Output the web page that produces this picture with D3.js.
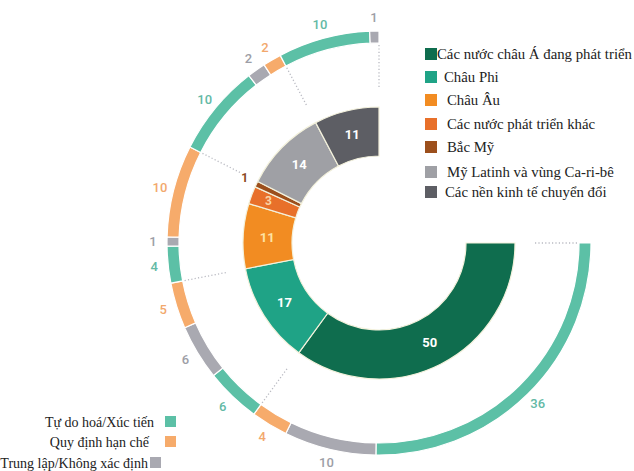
<!DOCTYPE html>
<html>
<head>
<meta charset="utf-8">
<script src="https://cdn.jsdelivr.net/npm/d3@7"></script>
<style>
  html, body { margin: 0; padding: 0; background: #fff; }
  svg { display: block; }
</style>
</head>
<body>
<svg id="chart" width="634" height="471"></svg>
<script>
// Regional groups (inner ring)
const groupNames = [
  "Các nước châu Á đang phát triển",
  "Châu Phi",
  "Châu Âu",
  "Các nước phát triển khác",
  "Bắc Mỹ",
  "Mỹ Latinh và vùng Ca-ri-bê",
  "Các nền kinh tế chuyển đổi"
];
const groupValues = [50, 17, 11, 3, 1, 14, 11];
const groupColors = ["#0f6d4e", "#1fa386", "#f28c22", "#e8702a", "#9c4f1c", "#9fa0a5", "#5d5e64"];
const groupLabelColors = ["#ffffff", "#ffffff", "#fde3a4", "#f9d5a6", "#8a4a1e", "#ffffff", "#ffffff"];

// Policy measure types (outer ring)
const typeNames = ["Tự do hoá/Xúc tiến", "Quy định hạn chế", "Trung lập/Không xác định"];
const typeColors = ["#5cc0a6", "#f6ab6b", "#a9a9b1"];
const typeLabelColors = ["#63b9a5", "#f2a86d", "#9d9ea6"];

// Outer ring runs, in order (value and type index)
const outerValues = [36, 10, 4, 6, 6, 5, 4, 1, 10, 10, 2, 2, 10, 1];
const outerTypes  = [0, 2, 1, 0, 2, 1, 0, 2, 1, 0, 2, 1, 0, 2];

const svg = d3.select("#chart");
const cx = 379, cy = 243;
const g = svg.append("g").attr("transform", `translate(${cx},${cy})`);

const start = Math.PI / 2, end = 2 * Math.PI;
const pie = d3.pie().sort(null).value(d => d.v).startAngle(start).endAngle(end);

const inner = pie(groupValues.map((v, i) => ({ v, i })));
const outer = pie(outerValues.map((v, i) => ({ v, t: outerTypes[i] })));

const rIn0 = 87, rIn1 = 136;
const rOut0 = 200, rOut1 = 212;

// angle scale from cumulative value to angle
const total = d3.sum(groupValues);
const angle = d3.scaleLinear().domain([0, total]).range([start, end]);

// dotted connectors at group boundaries that coincide with outer-ring breaks
const groupCum = Array.from(d3.cumsum(groupValues));
const outerCum = Array.from(d3.cumsum(outerValues));
const boundaries = [0].concat(groupCum.filter(c => outerCum.includes(c)));
g.selectAll("line.conn").data(boundaries).join("line")
  .attr("class", "conn")
  .attr("x1", d => 156 * Math.sin(angle(d)))
  .attr("y1", d => -156 * Math.cos(angle(d)))
  .attr("x2", d => 199 * Math.sin(angle(d)))
  .attr("y2", d => -199 * Math.cos(angle(d)))
  .attr("stroke", "#b9bac2")
  .attr("stroke-width", 1.3)
  .attr("stroke-dasharray", "1.2,2.2");

// inner ring
const arcIn = d3.arc().innerRadius(rIn0).outerRadius(rIn1);
g.selectAll("path.inner").data(inner).join("path")
  .attr("class", "inner")
  .attr("d", arcIn)
  .attr("fill", d => groupColors[d.data.i])
  .attr("stroke", "#f3f1dc")
  .attr("stroke-width", 1.2);

// inner labels
g.selectAll("text.inner").data(inner).join("text")
  .attr("class", "inner")
  .attr("transform", d => {
    const a = (d.startAngle + d.endAngle) / 2;
    const r = d.data.v <= 1 ? 149 : (d.data.v <= 3 ? 118 : 112);
    return `translate(${r * Math.sin(a)},${-r * Math.cos(a)})`;
  })
  .attr("text-anchor", "middle")
  .attr("dominant-baseline", "central")
  .attr("font-family", "Roboto, 'Open Sans', sans-serif")
  .attr("font-weight", 700)
  .attr("font-size", d => d.data.v <= 3 ? 12 : 13)
  .attr("fill", d => groupLabelColors[d.data.i])
  .text(d => d.data.v);

// outer ring
const arcOut = d3.arc().innerRadius(rOut0).outerRadius(rOut1);
g.selectAll("path.outer").data(outer).join("path")
  .attr("class", "outer")
  .attr("d", arcOut)
  .attr("fill", d => typeColors[d.data.t])
  .attr("stroke", "#fff")
  .attr("stroke-width", 1.2);

// outer labels
g.selectAll("text.outer").data(outer).join("text")
  .attr("class", "outer")
  .attr("transform", d => {
    const a = (d.startAngle + d.endAngle) / 2;
    const r = 226;
    return `translate(${r * Math.sin(a)},${-r * Math.cos(a)})`;
  })
  .attr("text-anchor", "middle")
  .attr("dominant-baseline", "central")
  .attr("font-family", "Roboto, 'Open Sans', sans-serif")
  .attr("font-weight", 500)
  .attr("font-size", 13)
  .attr("fill", d => typeLabelColors[d.data.t])
  .text(d => d.data.v);

// legend: regions
const leg1 = svg.append("g").attr("transform", "translate(425,54)");
const rowY = [0, 23, 46, 70, 93, 118, 138];
const textX = [12, 19, 22, 22, 22, 22, 20];
groupNames.forEach((name, i) => {
  const row = leg1.append("g").attr("transform", `translate(0,${rowY[i]})`);
  row.append("rect").attr("x", 0).attr("y", -6).attr("width", 12).attr("height", 12)
    .attr("fill", groupColors[i]);
  row.append("text").attr("x", textX[i]).attr("y", 0)
    .attr("dominant-baseline", "central")
    .attr("font-family", "'Liberation Serif', 'DejaVu Serif', serif")
    .attr("font-size", 14.8)
    .attr("fill", "#222")
    .text(name);
});

// legend: measure types
const leg2 = svg.append("g").attr("transform", "translate(0,422)");
const row2Y = [0, 20, 41];
const row2TextEnd = [154, 149, 148];
const row2Box = [165, 165, 150];
typeNames.forEach((name, i) => {
  const row = leg2.append("g").attr("transform", `translate(0,${row2Y[i]})`);
  row.append("text").attr("x", row2TextEnd[i]).attr("y", 0)
    .attr("text-anchor", "end")
    .attr("dominant-baseline", "central")
    .attr("font-family", "'Liberation Serif', 'DejaVu Serif', serif")
    .attr("font-size", 14)
    .attr("fill", "#222")
    .text(name);
  row.append("rect").attr("x", row2Box[i]).attr("y", -6).attr("width", 11).attr("height", 11)
    .attr("fill", typeColors[i]);
});
</script>
</body>
</html>
